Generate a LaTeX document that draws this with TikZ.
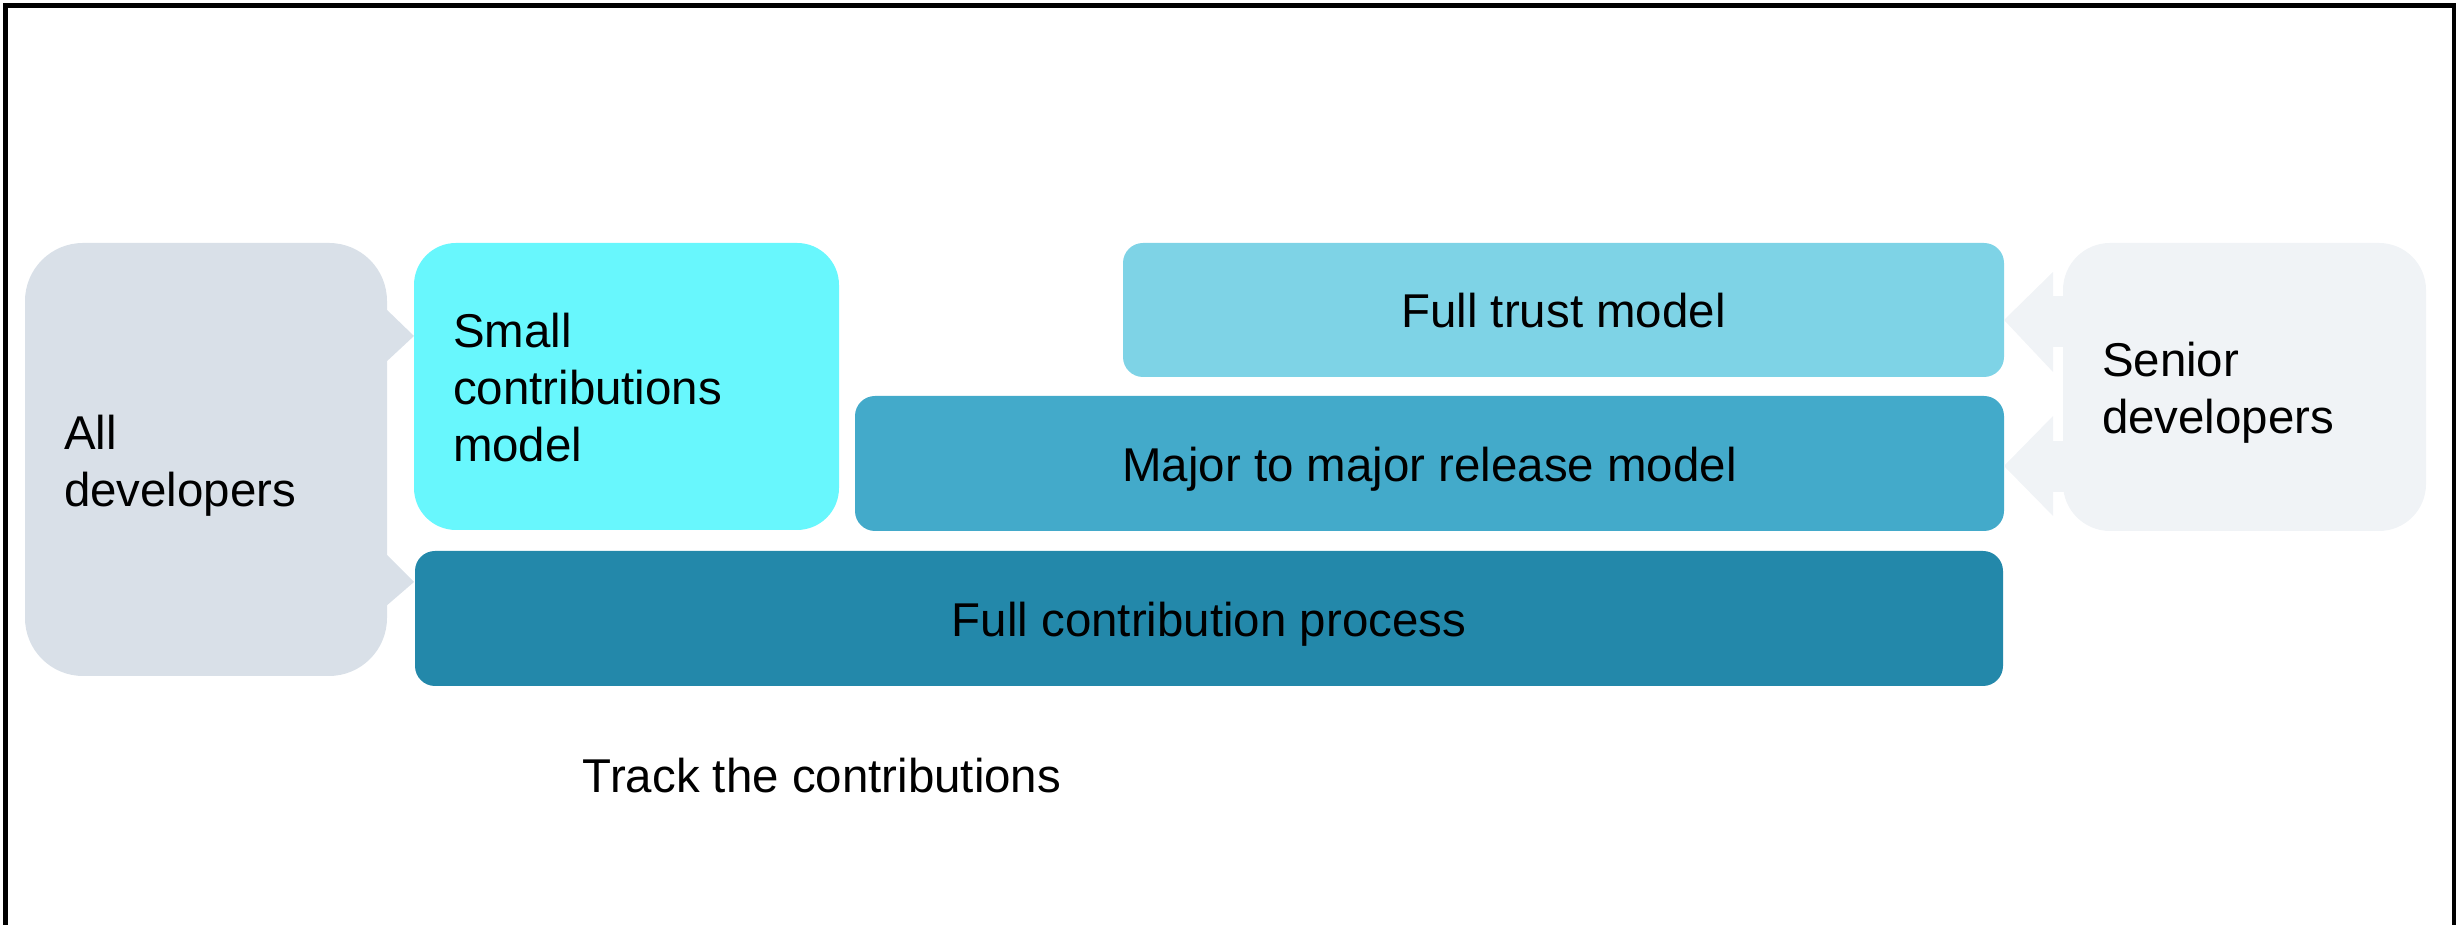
\documentclass[tikz,border=0pt]{standalone}
\usepackage{fontspec}
\setmainfont{Liberation Sans}
\definecolor{alldev}{HTML}{D9E0E8}
\definecolor{senior}{HTML}{F0F3F6}
\definecolor{small}{HTML}{68F7FD}
\definecolor{trust}{HTML}{7ED3E6}
\definecolor{major}{HTML}{43AACA}
\definecolor{contrib}{HTML}{2388AA}
\tikzset{
  bigfont/.style={font=\fontsize{13.5}{16.2}\selectfont},
  block/.style={bigfont, rectangle, rounded corners=0.2cm, inner sep=0pt, align=center, text height=0.36cm, text depth=0pt},
  callout/.style={bigfont, rectangle, inner xsep=0.39cm, inner ysep=0pt, align=left}
}
\begin{document}
\begin{tikzpicture}
				\useasboundingbox (0,0) rectangle (24.56,-9.25);
				% Frame
				\draw[line width=0.05cm] (0.058,-9.6) -- (0.058,-0.058) -- (24.54,-0.058) -- (24.54,-9.6);

				% All developers
				\node[callout, fill=alldev, rounded corners=0.58cm, minimum width=3.62cm, minimum height=4.33cm, text width=2.84cm, text height=0.46cm] (all) at (2.06,-4.595) {All\\developers};
				\fill[alldev] (3.85,-3.08) -- (4.14,-3.36) -- (3.85,-3.63) -- cycle;
				\fill[alldev] (3.85,-5.53) -- (4.14,-5.82) -- (3.85,-6.07) -- cycle;

				% Models
				\node[callout, fill=small, rounded corners=0.42cm, minimum width=4.23cm, minimum height=2.87cm, text width=3.47cm, text height=0.36cm] (small) at (6.265,-3.865) {Small\\contributions\\model};
				\node[block, fill=trust, minimum width=8.81cm, minimum height=1.34cm] (trust) at (15.635,-3.10) {Full trust model};
				\node[block, fill=major, minimum width=11.49cm, minimum height=1.35cm] (major) at (14.295,-4.635) {Major to major release model};
				\node[block, fill=contrib, minimum width=15.88cm, minimum height=1.35cm] (contrib) at (12.09,-6.185) {Full contribution process};

				% Senior developers
				\node[callout, fill=senior, rounded corners=0.47cm, minimum width=3.63cm, minimum height=2.88cm, text width=2.85cm, text height=0.46cm] (senior) at (22.445,-3.87) {Senior\\developers};
				\fill[senior] (20.52,-2.96) rectangle (20.65,-3.47);
				\fill[senior] (20.53,-2.72) -- (20.04,-3.20) -- (20.53,-3.72) -- cycle;
				\fill[senior] (20.52,-4.41) rectangle (20.65,-4.92);
				\fill[senior] (20.53,-4.16) -- (20.04,-4.66) -- (20.53,-5.16) -- cycle;

				\node[bigfont, anchor=base, inner sep=0pt] (track) at (8.22,-7.93) {Track the contributions};
			\end{tikzpicture}
\end{document}
